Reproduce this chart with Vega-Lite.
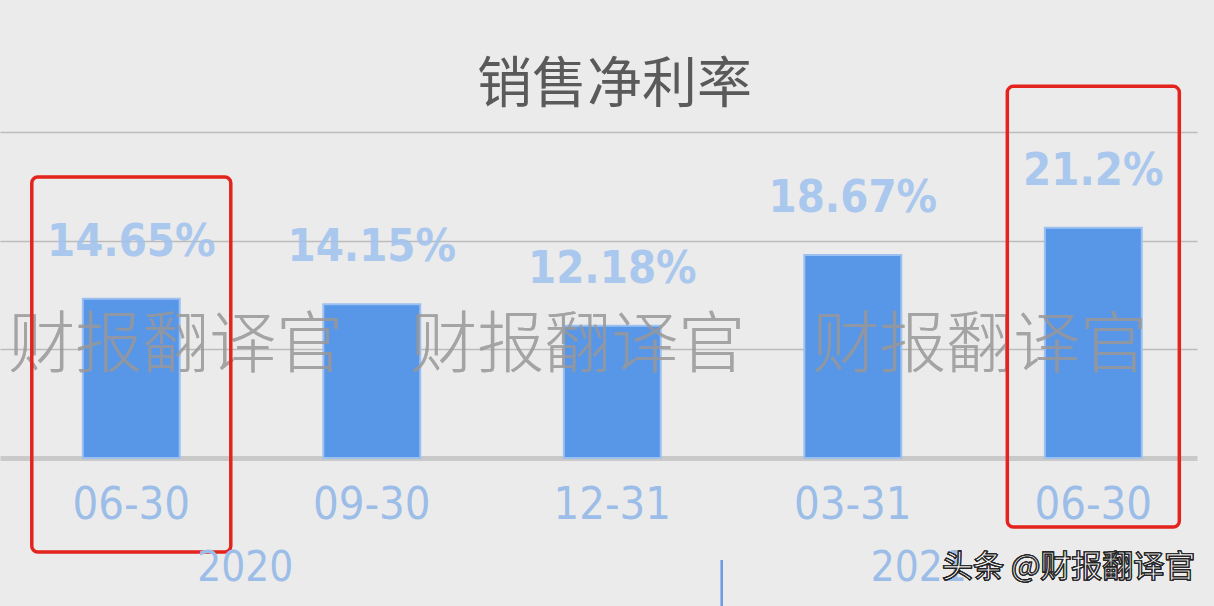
{
  "$schema": "https://vega.github.io/schema/vega-lite/v6.json",
  "autosize": "none",
  "width": 1197,
  "height": 326,
  "padding": {"left": 0, "top": 132, "right": 17, "bottom": 148},
  "background": "#ebebeb",
  "title": {
    "text": "销售净利率",
    "font": "Noto Sans CJK SC",
    "fontSize": 55,
    "fontWeight": "normal",
    "color": "#5a5a5a",
    "anchor": "middle",
    "offset": -29,
    "dx": 16
  },
  "config": {
    "view": {"stroke": null},
    "axis": {"ticks": false}
  },
  "data": {
    "values": [
      {"key": "2020-06-30", "label": "06-30", "year": "2020", "value": 14.65, "text": "14.65%"},
      {"key": "2020-09-30", "label": "09-30", "year": "2020", "value": 14.15, "text": "14.15%"},
      {"key": "2020-12-31", "label": "12-31", "year": "2020", "value": 12.18, "text": "12.18%"},
      {"key": "2021-03-31", "label": "03-31", "year": "2021", "value": 18.67, "text": "18.67%"},
      {"key": "2021-06-30", "label": "06-30", "year": "2021", "value": 21.2, "text": "21.2%"}
    ]
  },
  "layer": [
    {
      "mark": {"type": "bar", "color": "#5896e8", "stroke": "#9cc0f0", "strokeWidth": 2},
      "encoding": {
        "x": {
          "field": "key", "type": "nominal", "sort": null,
          "scale": {"paddingInner": 0.597, "paddingOuter": 0.287, "align": 0.6},
          "axis": {
            "title": null,
            "labelExpr": "slice(datum.value, 5)",
            "labelFont": "DejaVu Sans Condensed",
            "labelFontSize": 45,
            "labelColor": "#9bbde8",
            "labelPadding": 24,
            "labelAngle": 0,
            "domain": true,
            "domainColor": "#c9c9c9",
            "domainWidth": 5,
            "grid": false
          }
        },
        "y": {
          "field": "value", "type": "quantitative",
          "scale": {"domain": [0, 30], "nice": false},
          "axis": {
            "title": null, "labels": false, "domain": false,
            "values": [10, 20, 30],
            "grid": true, "gridColor": "#bcbcbc", "gridWidth": 1.5
          }
        }
      }
    },
    {
      "mark": {"type": "text", "font": "DejaVu Sans Condensed", "fontWeight": "bold", "fontSize": 45, "color": "#a3c4ee", "opacity": 0.9, "baseline": "alphabetic", "dy": -43},
      "encoding": {
        "x": {"field": "key", "type": "nominal", "sort": null},
        "y": {"field": "value", "type": "quantitative"},
        "text": {"field": "text"}
      }
    },
    {
      "mark": {"type": "text", "font": "Noto Sans CJK SC", "fontSize": 67, "fontWeight": 300, "color": "#9a9a9a", "opacity": 0.32, "align": "left", "baseline": "middle", "dx": -123, "dy": -2},
      "encoding": {
        "x": {"datum": "2020-06-30", "type": "nominal"},
        "y": {"datum": 10, "type": "quantitative"},
        "text": {"value": "财报翻译官　财报翻译官　财报翻译官　财"}
      }
    },
    {
      "transform": [{"filter": "datum.key == '2020-06-30'"}],
      "mark": {"type": "bar", "width": 199, "fill": null, "fillOpacity": 0, "stroke": "#e3231d", "strokeWidth": 3.5, "cornerRadius": 6},
      "encoding": {
        "x": {"field": "key", "type": "nominal", "sort": null},
        "y": {"datum": 25.85, "type": "quantitative"},
        "y2": {"datum": -8.65}
      }
    },
    {
      "transform": [{"filter": "datum.key == '2021-06-30'"}],
      "mark": {"type": "bar", "width": 172, "fill": null, "fillOpacity": 0, "stroke": "#e3231d", "strokeWidth": 3.5, "cornerRadius": 6},
      "encoding": {
        "x": {"field": "key", "type": "nominal", "sort": null},
        "y": {"datum": 34.2, "type": "quantitative"},
        "y2": {"datum": -6.35}
      }
    },
    {
      "mark": {"type": "rule", "color": "#6f9fe0", "strokeWidth": 2},
      "encoding": {
        "x": {"datum": "2020-12-31", "type": "nominal", "bandPosition": 1.63},
        "y": {"datum": -9.4, "type": "quantitative"},
        "y2": {"datum": -14}
      }
    },
    {
      "transform": [{"filter": "datum.key == '2020-06-30'"}],
      "mark": {"type": "text", "font": "DejaVu Sans Condensed", "fontSize": 42, "color": "#9bbde8", "baseline": "middle", "dx": 114},
      "encoding": {
        "x": {"field": "key", "type": "nominal", "sort": null},
        "y": {"datum": -10.1, "type": "quantitative"},
        "text": {"field": "year"}
      }
    },
    {
      "transform": [{"filter": "datum.key == '2021-03-31'"}],
      "mark": {"type": "text", "font": "DejaVu Sans Condensed", "fontSize": 42, "color": "#9bbde8", "baseline": "middle", "dx": 66},
      "encoding": {
        "x": {"field": "key", "type": "nominal", "sort": null},
        "y": {"datum": -10.1, "type": "quantitative"},
        "text": {"field": "year"}
      }
    },
    {
      "mark": {"type": "text", "font": "Noto Sans CJK SC", "fontSize": 31, "fill": "#ffffff", "stroke": "#222222", "strokeWidth": 1.1, "align": "right", "baseline": "middle", "dx": 102},
      "encoding": {
        "x": {"datum": "2021-06-30", "type": "nominal"},
        "y": {"datum": -10.1, "type": "quantitative"},
        "text": {"value": "头条 @财报翻译官"}
      }
    }
  ]
}
